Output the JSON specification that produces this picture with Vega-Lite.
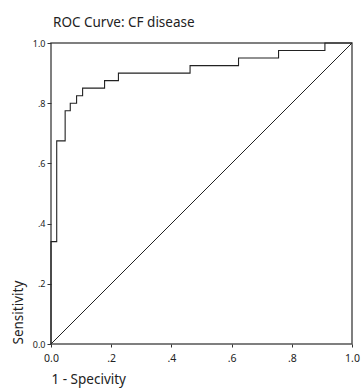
{
  "$schema": "https://vega.github.io/schema/vega-lite/v6.json",
  "width": 301,
  "height": 301,
  "autosize": "none",
  "padding": {"left": 51, "top": 43, "right": 12, "bottom": 45},
  "config": {
    "font": "Noto Sans",
    "view": {"stroke": "#555", "strokeWidth": 1.5},
    "axis": {"grid": false, "domain": false, "tickColor": "#333", "labelColor": "#222", "titleColor": "#222", "labelFont": "Noto Sans", "titleFont": "Noto Sans", "titleFontWeight": "normal"}
  },
  "title": {"text": "ROC Curve: CF disease", "anchor": "start", "frame": "group", "fontSize": 13.5, "fontWeight": "normal", "font": "Noto Sans", "color": "#222", "offset": 10, "dx": 2},
  "layer": [
    {
      "data": {"values": [
        {"fpr": 0, "sens": 0},
        {"fpr": 0, "sens": 0.34},
        {"fpr": 0.019, "sens": 0.675},
        {"fpr": 0.047, "sens": 0.775},
        {"fpr": 0.064, "sens": 0.8},
        {"fpr": 0.085, "sens": 0.825},
        {"fpr": 0.105, "sens": 0.85},
        {"fpr": 0.178, "sens": 0.875},
        {"fpr": 0.224, "sens": 0.9},
        {"fpr": 0.462, "sens": 0.925},
        {"fpr": 0.623, "sens": 0.95},
        {"fpr": 0.756, "sens": 0.975},
        {"fpr": 0.91, "sens": 1},
        {"fpr": 1, "sens": 1}
      ]},
      "mark": {"type": "line", "interpolate": "step-after", "color": "#222", "strokeWidth": 1.1},
      "encoding": {
        "x": {"field": "fpr", "type": "quantitative", "scale": {"domain": [0, 1], "nice": false},
          "axis": {"values": [0, 0.2, 0.4, 0.6, 0.8, 1], "labelExpr": "datum.value == 0 ? '0.0' : datum.value == 1 ? '1.0' : replace(format(datum.value, '.1f'), '0.', '.')", "tickSize": 3, "labelPadding": 6, "labelFontSize": 10.5, "title": "1 - Specivity", "titleAnchor": "start", "titleFontSize": 13.5, "titlePadding": 9, "labelFlush": false}},
        "y": {"field": "sens", "type": "quantitative", "scale": {"domain": [0, 1], "nice": false},
          "axis": {"values": [0, 0.2, 0.4, 0.6, 0.8, 1], "labelExpr": "datum.value == 0 ? '0.0' : datum.value == 1 ? '1.0' : replace(format(datum.value, '.1f'), '0.', '.')", "tickSize": 4, "labelPadding": 2, "labelFontSize": 9, "title": "Sensitivity", "titleAnchor": "start", "titleFontSize": 13.5, "titlePadding": 7, "labelFlush": false}}
      }
    },
    {
      "data": {"values": [{"fpr": 0, "sens": 0}, {"fpr": 1, "sens": 1}]},
      "mark": {"type": "line", "color": "#222", "strokeWidth": 1},
      "encoding": {
        "x": {"field": "fpr", "type": "quantitative"},
        "y": {"field": "sens", "type": "quantitative"}
      }
    }
  ]
}
